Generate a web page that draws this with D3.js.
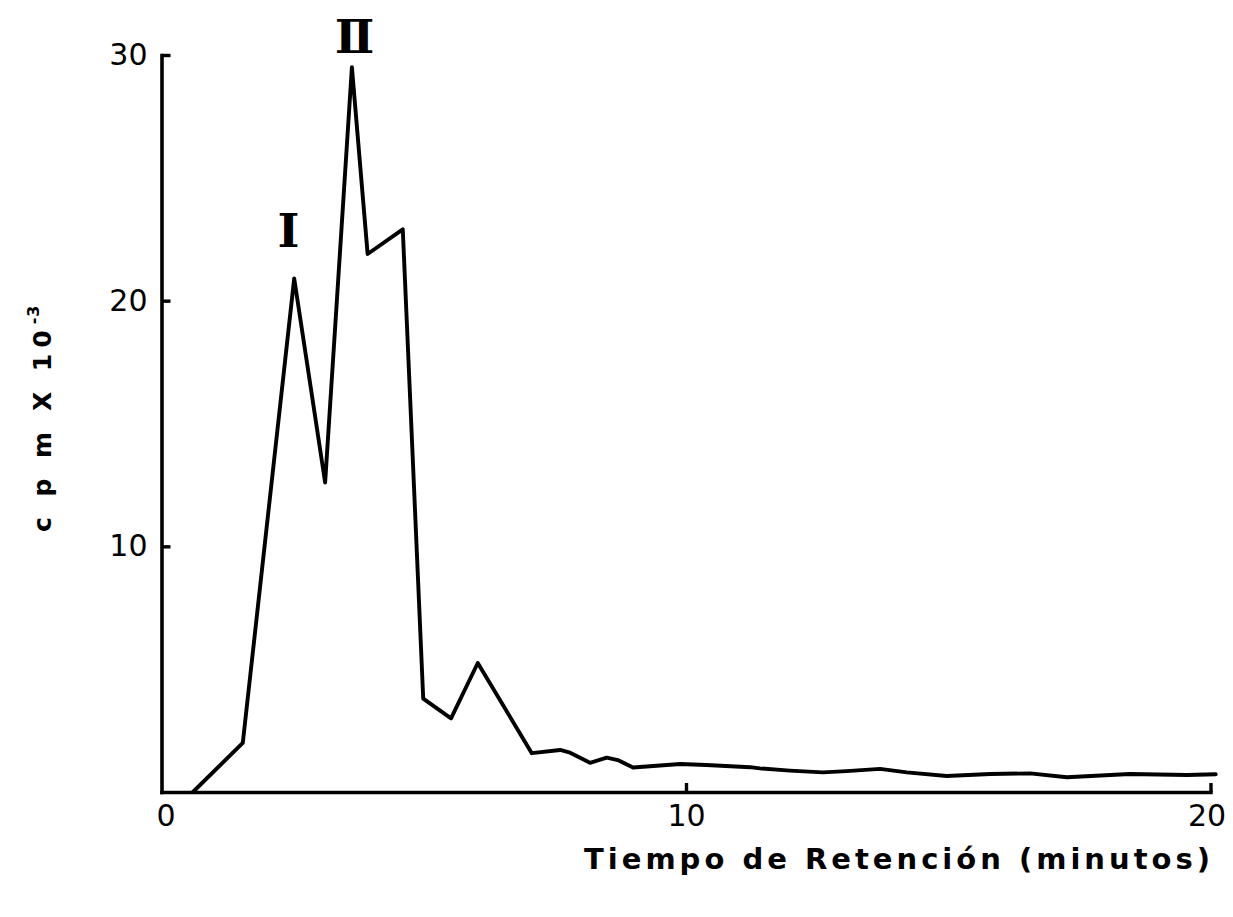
<!DOCTYPE html>
<html>
<head>
<meta charset="utf-8">
<script src="https://cdn.jsdelivr.net/npm/d3@7"></script>
<style>
  html, body { margin: 0; padding: 0; background: #fff; }
  svg { display: block; }
</style>
</head>
<body>
<svg id="chart" width="1233" height="917"></svg>
<script>
// Radioactivity elution profile (cpm x 10^-3) versus retention time (minutes)
const retentionTime = [0.60, 1.55, 2.53, 3.12, 3.63, 3.93, 4.60, 4.99, 5.52, 6.03, 7.06, 7.60, 7.79, 8.17, 8.49, 8.70, 8.99, 9.89, 10.39, 11.22, 11.41, 11.98, 12.61, 13.06, 13.70, 14.21, 14.97, 15.80, 16.56, 17.26, 18.46, 19.55, 20.10];
const cpm = [0.0, 2.0, 20.9, 12.6, 29.5, 21.9, 22.9, 3.8, 3.0, 5.25, 1.58, 1.71, 1.60, 1.19, 1.40, 1.30, 1.00, 1.14, 1.10, 1.01, 0.96, 0.87, 0.80, 0.85, 0.94, 0.80, 0.65, 0.73, 0.76, 0.60, 0.73, 0.69, 0.72];

const xTicks = [0, 10, 20];
const yTicks = [10, 20, 30];

const peakLabels = ["Ⅰ", "Ⅱ"];
const peakTimes = [2.42, 3.68];
const peakLabelValues = [22.2, 30.1];

const xTitle = "Tiempo de Retención (minutos)";

const svg = d3.select("#chart");

const x = d3.scaleLinear().domain([0, 20]).range([161.5, 1210.5]);
const y = d3.scaleLinear().domain([0, 30]).range([792, 55]);

const axisFont = "'DejaVu Sans', sans-serif";

// y axis: ticks point inward, labels on the left
const yAxis = svg.append("g")
  .attr("transform", `translate(${x(0)},0)`)
  .call(d3.axisLeft(y).tickValues(yTicks).tickSizeInner(-9).tickSizeOuter(0).tickPadding(14));

// x axis: ticks point upward, labels below
const xAxis = svg.append("g")
  .attr("transform", `translate(0,${y(0)})`)
  .call(d3.axisBottom(x).tickValues(xTicks).tickSizeInner(-9).tickSizeOuter(0).tickPadding(13));

[yAxis, xAxis].forEach(g => {
  g.select(".domain").attr("stroke", "#000").attr("stroke-width", 3.6).attr("stroke-linecap", "square");
  g.selectAll(".tick line").attr("stroke", "#000").attr("stroke-width", 3.4);
  g.selectAll(".tick text")
    .attr("fill", "#000")
    .style("font-family", axisFont)
    .style("font-size", "30px");
});
xAxis.selectAll(".tick").filter(d => d === 0).select("line").remove();
xAxis.selectAll(".tick").filter(d => d === 0).select("text").attr("dx", 4);
xAxis.selectAll(".tick").filter(d => d === 20).select("text").attr("dx", -4);

// elution curve
const line = d3.line()
  .x((d, i) => x(retentionTime[i]))
  .y(d => y(d))
  .curve(d3.curveLinear);

svg.append("path")
  .datum(cpm)
  .attr("d", line)
  .attr("fill", "none")
  .attr("stroke", "#000")
  .attr("stroke-width", 3.9)
  .attr("stroke-linejoin", "round")
  .attr("stroke-linecap", "round");

// peak numerals
svg.selectAll("text.peak")
  .data(peakLabels)
  .join("text")
  .attr("class", "peak")
  .attr("x", (d, i) => x(peakTimes[i]))
  .attr("y", (d, i) => y(peakLabelValues[i]))
  .attr("text-anchor", "middle")
  .style("font-family", "'DejaVu Serif', serif")
  .style("font-size", "47px")
  .style("font-weight", "bold")
  .text(d => d);

// y axis title (rotated), with superscript exponent
const yTitle = svg.append("text")
  .attr("transform", "translate(51,532) rotate(-90)")
  .attr("text-anchor", "start")
  .style("font-family", axisFont)
  .style("font-size", "25px")
  .style("font-weight", "bold")
  .style("letter-spacing", "6px");
yTitle.append("tspan").text("c p m  X 10");
yTitle.append("tspan")
  .attr("dy", -12)
  .style("font-size", "16px")
  .style("letter-spacing", "1px")
  .text("-3");

// x axis title
svg.append("text")
  .attr("x", 584)
  .attr("y", 869)
  .attr("textLength", 626)
  .attr("lengthAdjust", "spacing")
  .style("font-family", axisFont)
  .style("font-size", "29px")
  .style("font-weight", "bold")
  .text(xTitle);
</script>
</body>
</html>
